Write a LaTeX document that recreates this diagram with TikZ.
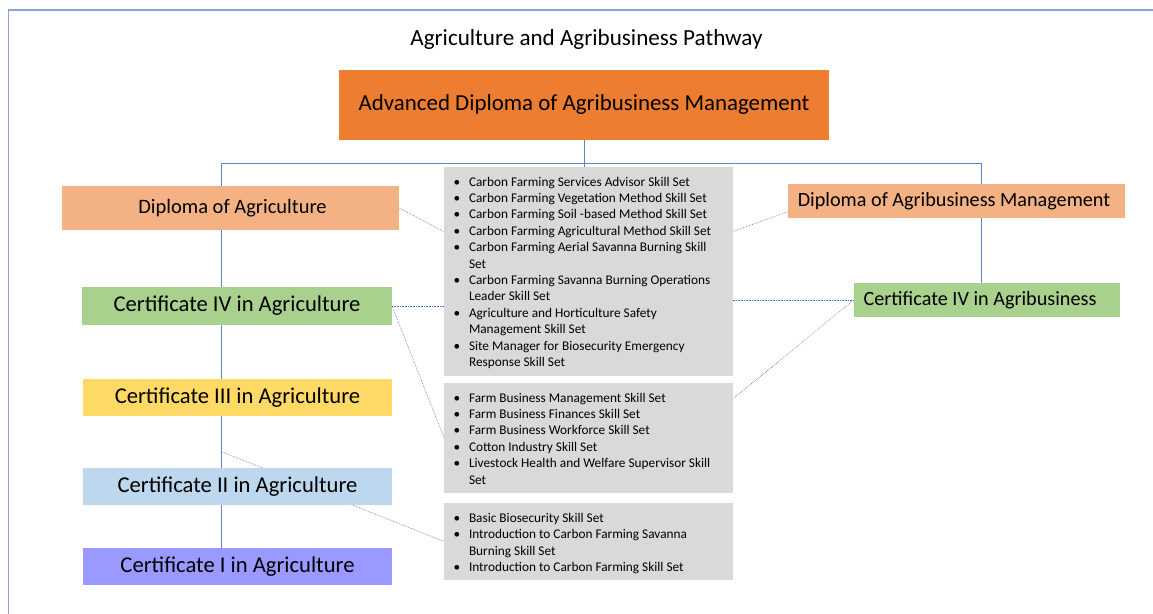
\documentclass[tikz,border=0pt]{standalone}
\usepackage{fontspec}
\setmainfont{Carlito}
\usetikzlibrary{calc,backgrounds}
\definecolor{frameblue}{HTML}{8EA2D2}
\definecolor{lineblue}{HTML}{4472C4}
\definecolor{treeblue}{HTML}{5B84D2}
\definecolor{advorange}{HTML}{ED7D31}
\definecolor{dippeach}{HTML}{F4B183}
\definecolor{certgreen}{HTML}{A9D18E}
\definecolor{certyellow}{HTML}{FFD966}
\definecolor{certblue}{HTML}{BDD7EE}
\definecolor{certpurple}{HTML}{9999FF}
\definecolor{skillgray}{HTML}{D9D9D9}
\newcommand{\bl}{\makebox[15.5pt][l]{\textbullet}}
\newcommand{\cn}{\makebox[15.5pt][l]{}}
\begin{document}
\begin{tikzpicture}[x=1pt,y=-1pt,
  box/.style={inner sep=0pt, outer sep=0pt, anchor=north west},
  bigtext/.style={font=\fontsize{22.6}{26}\selectfont},
  midtext/.style={font=\fontsize{20.2}{24}\selectfont},
  skilltext/.style={inner sep=0pt, outer sep=0pt, anchor=north west, align=left},
  tree/.style={draw=treeblue, line width=1pt},
  link/.style={draw=lineblue, line width=0.6pt, densely dotted}]
\useasboundingbox (0,0) rectangle (1153,613);

\node[font=\fontsize{23.1}{27}\selectfont, anchor=base, inner sep=0pt] (title) at (586.5,45.7) {Agriculture and Agribusiness Pathway};

\node[box, fill=advorange, minimum width=490pt, minimum height=69.7pt, font=\fontsize{22.9}{27}\selectfont] (adv) at (339,70) {Advanced Diploma of Agribusiness Management};

\node[box, fill=dippeach, minimum width=337pt, minimum height=44pt, font=\fontsize{20.5}{24}\selectfont] (dipag) at (62,186) {\hspace*{4pt}Diploma of Agriculture};
\node[box, fill=dippeach, minimum width=337pt, minimum height=33.7pt, midtext] (dipab) at (788,184) {Diploma of Agribusiness Management\hspace*{5pt}};
\node[box, fill=certgreen, minimum width=266pt, minimum height=33.7pt, midtext] (c4b) at (854,283) {Certificate IV in Agribusiness\hspace*{14pt}};

\node[box, fill=certgreen, minimum width=310pt, minimum height=37.7pt, bigtext] (c4) at (82,287) {Certificate IV in Agriculture};
\node[box, fill=certyellow, minimum width=309pt, minimum height=36.7pt, bigtext] (c3) at (83,379) {Certificate III in Agriculture};
\node[box, fill=certblue, minimum width=309pt, minimum height=36.7pt, bigtext] (c2) at (83,468) {Certificate II in Agriculture};
\node[box, fill=certpurple, minimum width=309pt, minimum height=36.7pt, bigtext] (c1) at (83,548) {Certificate I in Agriculture};

\node[box, fill=skillgray, minimum width=288.7pt, minimum height=209.3pt] (g1) at (444,166.7) {};
\node[box, fill=skillgray, minimum width=288.7pt, minimum height=110pt] (g2) at (444,382.7) {};
\node[box, fill=skillgray, minimum width=288.7pt, minimum height=77pt] (g3) at (444,503) {};

\begin{scope}[font=\fontsize{13.3}{16.4}\selectfont]
\node[skilltext] (t1) at ($(g1.north west)+(9.5,10.2)$) {%
\bl Carbon Farming Services Advisor Skill Set\\
\bl Carbon Farming Vegetation Method Skill Set\\
\bl Carbon Farming Soil -based Method Skill Set\\
\bl Carbon Farming Agricultural Method Skill Set\\
\bl Carbon Farming Aerial Savanna Burning Skill\\
\cn Set\\
\bl Carbon Farming Savanna Burning Operations\\
\cn Leader Skill Set\\
\bl Agriculture and Horticulture Safety\\
\cn Management Skill Set\\
\bl Site Manager for Biosecurity Emergency\\
\cn Response Skill Set};
\node[skilltext] (t2) at ($(g2.north west)+(9.5,10.2)$) {%
\bl Farm Business Management Skill Set\\
\bl Farm Business Finances Skill Set\\
\bl Farm Business Workforce Skill Set\\
\bl Cotton Industry Skill Set\\
\bl Livestock Health and Welfare Supervisor Skill\\
\cn Set};
\node[skilltext] (t3) at ($(g3.north west)+(9.5,10.2)$) {%
\bl Basic Biosecurity Skill Set\\
\bl Introduction to Carbon Farming Savanna\\
\cn Burning Skill Set\\
\bl Introduction to Carbon Farming Skill Set};
\end{scope}

\coordinate (barL) at (221,163);
\coordinate (barR) at (981,163);
\coordinate (kink) at (221,451.7);

\begin{scope}[on background layer]
\fill[white] (0,0) rectangle (1153,613);
\draw[frameblue, line width=1.3pt] (1160,10) -- (8.5,10) -- (8.5,620);
\draw[tree] (adv.south) -- (adv.south |- g1.north);
\draw[tree] (barL) -- (barR);
\draw[tree] (barL) -- (barL |- c1.north);
\draw[tree] (barR) -- (barR |- c4b.north);
\draw[link] (kink) -- ($(c2.north west)+(180,0)$);
\draw[link] (dipag.east) -- ($(g1.north west)!0.31!(g1.south west)$);
\draw[link] (c4.east) -- (c4.east -| g1.west);
\draw[link] (c4.east) -- (g2.west);
\draw[link] ($(c2.south west)+(268.7,0)$) -- (g3.west);
\draw[link] ($(g1.north east)!0.31!(g1.south east)$) -- ($(dipab.north west)!0.82!(dipab.south west)$);
\draw[link] (c4b.west -| g1.east) -- (c4b.west);
\draw[link] ($(g2.north east)!0.148!(g2.south east)$) -- (c4b.west);
\end{scope}
\end{tikzpicture}
\end{document}
